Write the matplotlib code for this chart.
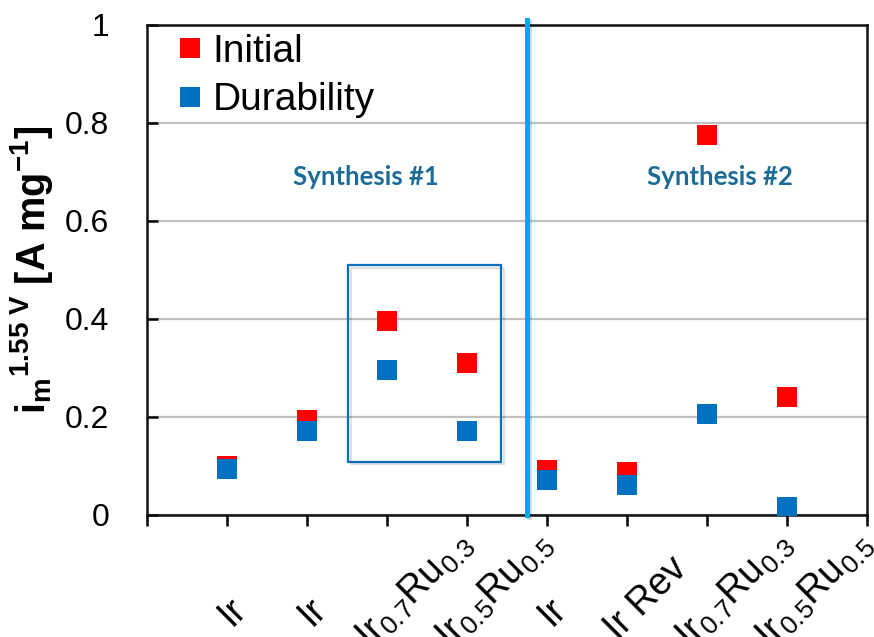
import matplotlib
matplotlib.use('Agg')
import matplotlib.pyplot as plt
import matplotlib.patheffects as pe
from matplotlib.transforms import ScaledTranslation
from matplotlib.patches import Rectangle
import numpy as np

plt.rcParams['font.family'] = ['Liberation Sans', 'DejaVu Sans']
plt.rcParams['mathtext.fontset'] = 'custom'
plt.rcParams['mathtext.rm'] = 'Liberation Sans'
plt.rcParams['mathtext.it'] = 'Liberation Sans:italic'
plt.rcParams['mathtext.bf'] = 'Liberation Sans:bold'

# ---- data ----
categories = ['Ir', 'Ir',
              r'Ir$_{\mathregular{0.7}}$Ru$_{\mathregular{0.3}}$',
              r'Ir$_{\mathregular{0.5}}$Ru$_{\mathregular{0.5}}$',
              'Ir', 'Ir Rev',
              r'Ir$_{\mathregular{0.7}}$Ru$_{\mathregular{0.3}}$',
              r'Ir$_{\mathregular{0.5}}$Ru$_{\mathregular{0.5}}$']
initial = [0.100, 0.193, 0.395, 0.310, 0.091, 0.087, 0.775, 0.240]
durability = [0.093, 0.171, 0.295, 0.172, 0.071, 0.061, 0.207, 0.017]
y_ticks = [0, 0.2, 0.4, 0.6, 0.8, 1.0]
y_tick_labels = ['0', '0.2', '0.4', '0.6', '0.8', '1']
series_names = ['Initial', 'Durability']
group_names = ['Synthesis #1', 'Synthesis #2']

RED = '#FF0000'
BLUE = '#0070C0'
LIGHTBLUE = '#00A8E8'
TEAL = '#1D6C97'

DPI = 100
fig = plt.figure(figsize=(8.74, 6.37), dpi=DPI)
ax = fig.add_axes([147/874, 1 - 515/637, 720/874, 490/637])

x = np.arange(1, len(categories) + 1)
ax.plot(x, initial, 's', color=RED, markersize=13.7, markeredgewidth=0,
        linestyle='none', zorder=4, label=series_names[0])
ax.plot(x, durability, 's', color=BLUE, markersize=13.7, markeredgewidth=0,
        linestyle='none', zorder=5, label=series_names[1])

ax.set_xlim(0, len(categories) + 1)
ax.set_ylim(0, 1)
ax.set_xticks(np.arange(0, len(categories) + 2))
ax.set_xticklabels([])
ax.set_yticks(y_ticks)
ax.set_yticklabels(y_tick_labels, fontsize=23)
ax.tick_params(axis='y', direction='in', length=8, width=1.8, pad=27)
ax.tick_params(axis='x', direction='out', length=8, width=1.8)
ax.yaxis.grid(True, color='#C0C0C0', linewidth=1.6, zorder=0)
ax.set_axisbelow(True)
for s in ax.spines.values():
    s.set_linewidth(1.8)
    s.set_color('#111111')

# category labels (rotated 45 deg, anchored at a fixed fraction of their length)
renderer = fig.canvas.get_renderer()
LABEL_FS = 27
frac = 0.25
c45 = np.cos(np.pi / 4)
for xi, lab in zip(x, categories):
    tmp = fig.text(0, 0, lab, fontsize=LABEL_FS)
    w = tmp.get_window_extent(renderer).width
    tmp.remove()
    dx = 9 - frac * w * c45
    dy = -108 - frac * w * c45
    trans = ax.get_xaxis_transform() + ScaledTranslation(dx / DPI, dy / DPI, fig.dpi_scale_trans)
    ax.text(xi, 0, lab, transform=trans, rotation=45, rotation_mode='anchor',
            ha='left', va='baseline', fontsize=LABEL_FS, clip_on=False)

# y label
ax.set_ylabel(r'$\mathbf{i}_{\mathbf{m}}$$^{\mathbf{1.55\ V}}$ [A mg$^{\mathbf{-1}}$]',
              fontsize=28.5, fontweight='bold')
ax.yaxis.set_label_coords(-0.128, 0.5)

# divider line
ax.axvline(4.75, ymin=0, ymax=1.01, color=LIGHTBLUE, linewidth=3.6, zorder=6,
           clip_on=False,
           path_effects=[pe.SimpleLineShadow(offset=(1.5, -1.5), alpha=0.15), pe.Normal()])

# box around Synthesis #1 alloys
rect = Rectangle((2.51, 0.109), 1.92, 0.401, fill=False, edgecolor=BLUE,
                 linewidth=1.6, zorder=3,
                 path_effects=[pe.SimpleLineShadow(offset=(2, -2), alpha=0.12), pe.Normal()])
ax.add_patch(rect)

# group labels
ax.text(2.73, 0.69, group_names[0], color=TEAL, fontsize=18.5, fontweight='bold',
        family=['Lato', 'DejaVu Sans'], ha='center', va='center')
ax.text(7.16, 0.69, group_names[1], color=TEAL, fontsize=18.5, fontweight='bold',
        family=['Lato', 'DejaVu Sans'], ha='center', va='center')

leg = ax.legend(loc='upper left', bbox_to_anchor=(0.045, 0.982), frameon=False,
                fontsize=28, handlelength=0.55, handletextpad=0.3,
                labelspacing=0.32, borderpad=0, borderaxespad=0)

fig.savefig('out.png', dpi=DPI)
